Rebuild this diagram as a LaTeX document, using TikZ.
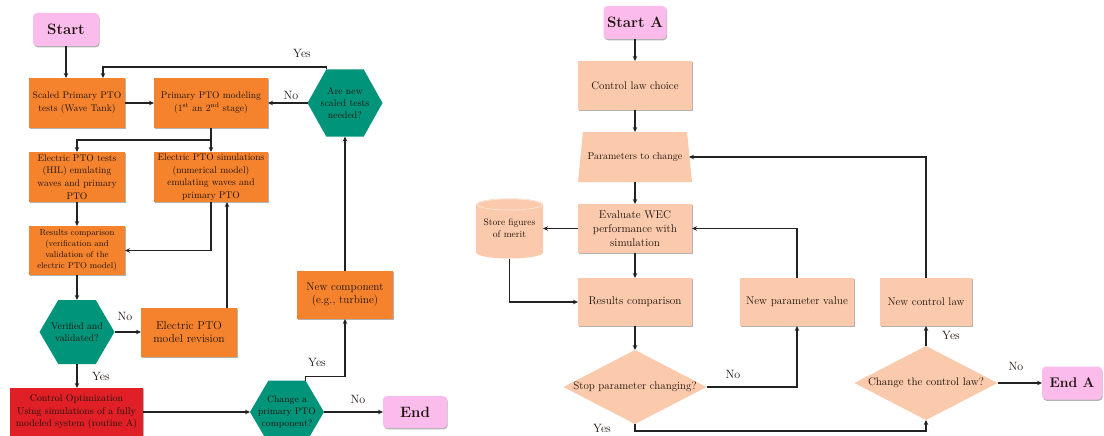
\documentclass[tikz,border=0pt]{standalone}
\usetikzlibrary{calc,shadows,arrows.meta,shapes.geometric}
\definecolor{orng}{HTML}{F5822D}
\definecolor{tealbx}{HTML}{00957A}
\definecolor{redbx}{HTML}{E11F26}
\definecolor{pinkbx}{HTML}{FBBCEC}
\definecolor{salm}{HTML}{FBC9AB}
\definecolor{txt}{HTML}{1E140E}
\definecolor{ln}{HTML}{222222}
\tikzset{
  base/.style={align=center, inner sep=0pt, outer sep=0pt, text=txt},
  shd/.style={drop shadow={shadow xshift=0.7pt, shadow yshift=-1.3pt, opacity=0.3, fill=black}},
  obox/.style={base, fill=orng, shd},
  sbox/.style={base, fill=salm, shd},
  pbox/.style={base, fill=pinkbx, rounded corners=4pt, shd, font=\fontsize{15}{17}\selectfont\bfseries},
  hexbox/.style={base, path picture={\fill[tealbx]
      (path picture bounding box.west)
      -- ($(path picture bounding box.north west)!0.25!(path picture bounding box.north east)$)
      -- ($(path picture bounding box.north west)!0.75!(path picture bounding box.north east)$)
      -- (path picture bounding box.east)
      -- ($(path picture bounding box.south west)!0.75!(path picture bounding box.south east)$)
      -- ($(path picture bounding box.south west)!0.25!(path picture bounding box.south east)$)
      -- cycle;}},
  diabox/.style={base, path picture={\fill[salm]
      (path picture bounding box.west) -- (path picture bounding box.north)
      -- (path picture bounding box.east) -- (path picture bounding box.south) -- cycle;}},
  trapbox/.style={base, path picture={\fill[salm]
      (path picture bounding box.south west)
      -- ($(path picture bounding box.north west)+(5,0)$)
      -- ($(path picture bounding box.north east)+(-5,0)$)
      -- (path picture bounding box.south east) -- cycle;}},
  cylbox/.style={base, path picture={
      \fill[salm] ($(path picture bounding box.north west)+(0,6)$)
        arc[start angle=180, end angle=0, x radius=33.5pt, y radius=6pt]
        -- ($(path picture bounding box.south east)+(0,-6)$)
        arc[start angle=0, end angle=-180, x radius=33.5pt, y radius=6pt] -- cycle;
      \draw[white!55!salm, line width=0.7pt] ($(path picture bounding box.north)+(0,6)$)
        ellipse [x radius=32.5pt, y radius=5.5pt];}},
  arr/.style={draw=ln, line width=1.1pt, -{Stealth[length=5pt,width=4.5pt]}},
  lbl/.style={text=txt, inner sep=0pt, font=\fontsize{12}{14}\selectfont},
}
\begin{document}
\begin{tikzpicture}[x=1pt,y=-1pt]
\useasboundingbox[fill=white] (0,0) rectangle (1104,436);

% ---------------- left flowchart ----------------
\node[pbox, minimum width=66, minimum height=33] (start) at (66,29.5) {Start};
\node[obox, minimum width=96, minimum height=50, font=\fontsize{9.6}{12.7}\selectfont] (scaled) at (77,103) {Scaled Primary PTO\\tests (Wave Tank)};
\node[obox, minimum width=114, minimum height=50, font=\fontsize{9.6}{12.7}\selectfont] (primary) at (211,103) {Primary PTO modeling\\(1\textsuperscript{st} an 2\textsuperscript{nd} stage)};
\node[hexbox, minimum width=75, minimum height=67, font=\fontsize{9.8}{12.3}\selectfont] (hexnew) at (345,103) {Are new\\scaled tests\\needed?};
\node[obox, minimum width=96, minimum height=50, font=\fontsize{9.6}{12.7}\selectfont] (etests) at (77,177) {Electric PTO tests\\(HIL) emulating\\waves and primary\\PTO};
\node[obox, minimum width=114, minimum height=50, font=\fontsize{9.6}{12.7}\selectfont] (esims) at (211,177) {Electric PTO simulations\\(numerical model)\\emulating waves and\\primary PTO};
\node[obox, minimum width=96, minimum height=49, font=\fontsize{8.6}{11}\selectfont] (results) at (77,250.5) {Results comparison\\(verification and\\validation of the\\electric PTO model)};
\node[hexbox, minimum width=75, minimum height=64, font=\fontsize{9.8}{12}\selectfont] (verified) at (77,332) {Verified and\\validated?};
\node[obox, minimum width=96, minimum height=49, font=\fontsize{11.5}{13.3}\selectfont] (revision) at (189,332) {Electric PTO\\model revision};
\node[base, fill=redbx, shd, minimum width=133, minimum height=48, font=\fontsize{9.9}{12.5}\selectfont] (ctrlopt) at (76.5,412) {Control Optimization\\Using simulations of a fully\\modeled system (routine A)};
\node[hexbox, minimum width=74, minimum height=63, font=\fontsize{9.4}{12.2}\selectfont] (change) at (287,412) {Change a\\primary PTO\\component?};
\node[obox, minimum width=96, minimum height=48, font=\fontsize{11.2}{13}\selectfont] (newcomp) at (345,295) {New component\\(e.g., turbine)};
\node[pbox, minimum width=64, minimum height=32] (end) at (415,412) {End};

\draw[arr] (start.south) -- (start.south |- scaled.north);
\draw[arr] (scaled.east) -- (primary.west);
\draw[arr] (hexnew.west) -- (primary.east);
\draw[arr] ([xshift=-18.5pt]hexnew.north) -- ++(0,-2.5) -| ([xshift=26pt]scaled.north);
\draw[arr] (primary.south) -- (esims.north);
\draw[arr] (primary.south) -- ++(0,12) -| (etests.north);
\draw[arr] (etests.south) -- (results.north);
\draw[arr] (esims.south) |- (results.east);
\draw[arr] ([xshift=38pt]revision.north) -- ([xshift=38pt]revision.north |- esims.south);
\draw[arr] (results.south) -- (verified.north);
\draw[arr] (verified.east) -- (revision.west);
\draw[arr] (verified.south) -- (verified.south |- ctrlopt.north);
\draw[arr] (ctrlopt.east) -- (change.west);
\draw[arr] ([xshift=18.5pt]change.north) -- ++(0,-4) -| (newcomp.south);
\draw[arr] (newcomp.north) -- (hexnew.south);
\draw[arr] (change.east) -- (end.west);

\node[lbl] (l1) at (302,53) {Yes};
\node[lbl] (l2) at (291,95) {No};
\node[lbl] (l3) at (125,316) {No};
\node[lbl] (l4) at (101,376) {Yes};
\node[lbl] (l5) at (317,362) {Yes};
\node[lbl] (l6) at (358,399) {No};

% ---------------- right flowchart ----------------
\node[pbox, minimum width=63, minimum height=33] (startA) at (635,22.5) {Start A};
\node[sbox, minimum width=114, minimum height=49, font=\fontsize{11}{14}\selectfont] (law) at (635,85.5) {Control law choice};
\node[trapbox, minimum width=114, minimum height=50, font=\fontsize{10}{13}\selectfont] (params) at (635,157) {Parameters to change};
\node[sbox, minimum width=114, minimum height=49, font=\fontsize{11.2}{14}\selectfont] (eval) at (635,228.5) {Evaluate WEC\\performance with\\simulation};
\node[cylbox, minimum width=67, minimum height=60, font=\fontsize{9.5}{12}\selectfont] (store) at (509.5,228.5) {Store figures\\of merit};
\node[sbox, minimum width=114, minimum height=48, font=\fontsize{11.2}{14}\selectfont] (resA) at (635,302) {Results comparison};
\node[diabox, minimum width=143, minimum height=74, font=\fontsize{11}{14}\selectfont] (stopd) at (635,387) {Stop parameter changing?};
\node[sbox, minimum width=114, minimum height=48, font=\fontsize{11.2}{14}\selectfont] (newparam) at (797,302) {New parameter value};
\node[diabox, minimum width=143, minimum height=74, font=\fontsize{10.9}{14}\selectfont] (changed) at (926,383) {Change the control law?};
\node[sbox, minimum width=92, minimum height=48, font=\fontsize{11.1}{14}\selectfont] (newlaw) at (926,302) {New control law};
\node[pbox, minimum width=60, minimum height=33, font=\fontsize{14}{16}\selectfont\bfseries] (endA) at (1072,383) {End A};

\draw[arr] (startA.south) -- (law.north);
\draw[arr] (law.south) -- (params.north);
\draw[arr] (params.south) -- (eval.north);
\draw[arr] (eval.west) -- (store.east);
\draw[arr] (store.south) |- (resA.west);
\draw[arr] (eval.south) -- (resA.north);
\draw[arr] (resA.south) -- (stopd.north);
\draw[arr] (stopd.east) -| (newparam.south);
\draw[arr] (newparam.north) |- (eval.east);
\draw[arr] (stopd.south) -- ++(0,7) -| (changed.south);
\draw[arr] (changed.north) -- (newlaw.south);
\draw[arr] (newlaw.north) |- ([xshift=-3pt]params.east);
\draw[arr] (changed.east) -- (endA.west);

\node[lbl] (r1) at (733,374) {No};
\node[lbl] (r2) at (602,428) {Yes};
\node[lbl] (r3) at (951,335) {Yes};
\node[lbl] (r4) at (1016,366) {No};
\end{tikzpicture}
\end{document}
